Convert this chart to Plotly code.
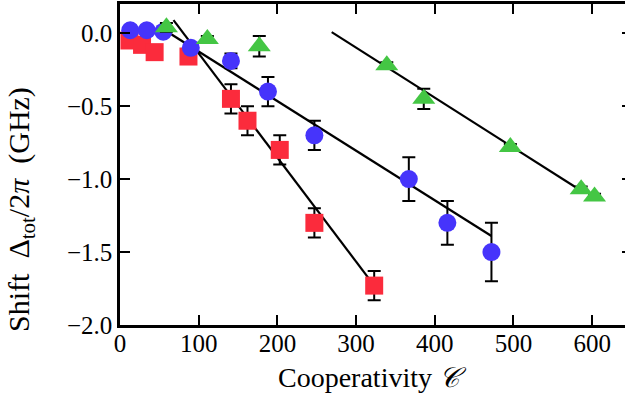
import plotly.graph_objects as go

# Measured shifts versus cooperativity for three series
red_x = [12, 28, 44, 87, 141, 162, 203, 247, 323]
red_y = [-0.05, -0.08, -0.13, -0.16, -0.45, -0.60, -0.80, -1.30, -1.73]
red_err = [0.02, 0.03, 0.03, 0.045, 0.10, 0.10, 0.10, 0.10, 0.10]

blue_x = [13, 34, 55, 90, 141, 188, 247, 367, 416, 472]
blue_y = [0.02, 0.02, 0.01, -0.10, -0.19, -0.40, -0.70, -1.00, -1.30, -1.50]
blue_err = [0.02, 0.02, 0.02, 0.02, 0.05, 0.10, 0.10, 0.15, 0.15, 0.20]

green_x = [59, 111, 177, 339, 386, 496, 586, 603]
green_y = [0.04, -0.04, -0.09, -0.22, -0.45, -0.78, -1.07, -1.12]
green_err = [0.03, 0.02, 0.07, 0.02, 0.07, 0.02, 0.02, 0.02]

# Linear fits (end points)
red_fit_x = [68, 323]
red_fit_y = [0.09, -1.73]
blue_fit_x = [60, 472]
blue_fit_y = [0.01, -1.39]
green_fit_x = [269, 587]
green_fit_y = [0.007, -1.083]

x_ticks = [0, 100, 200, 300, 400, 500, 600]
y_ticks = [-2.0, -1.5, -1.0, -0.5, 0.0]
y_tick_text = ["\u22122.0", "\u22121.5", "\u22121.0", "\u22120.5", "0.0"]

RED = "#fb2b3c"
BLUE = "#4634fb"
GREEN = "#44c644"
FONT = "Liberation Serif"

fig = go.Figure()

for fx, fy in [(red_fit_x, red_fit_y), (blue_fit_x, blue_fit_y), (green_fit_x, green_fit_y)]:
    fig.add_trace(go.Scatter(x=fx, y=fy, mode="lines",
                             line=dict(color="black", width=2.2),
                             showlegend=False, hoverinfo="skip"))

def points(x, y, err, symbol, color, size):
    return go.Scatter(
        x=x, y=y, mode="markers",
        marker=dict(symbol=symbol, color=color, size=size, line=dict(width=0)),
        error_y=dict(type="data", array=err, visible=True, color="black",
                     thickness=2, width=6.5),
        showlegend=False,
    )

fig.add_trace(points(red_x, red_y, red_err, "square", RED, 18))
fig.add_trace(points(blue_x, blue_y, blue_err, "circle", BLUE, 18))
fig.add_trace(points(green_x, green_y, green_err, "triangle-up", GREEN, 20))

# invisible trace to carry the right-hand tick axis
fig.add_trace(go.Scatter(x=[0], y=[0], yaxis="y2", mode="markers",
                         marker=dict(opacity=0), showlegend=False, hoverinfo="skip"))

fig.update_layout(
    width=625, height=396,
    margin=dict(l=120, r=0, t=4, b=71),
    paper_bgcolor="white", plot_bgcolor="white",
    font=dict(family=FONT, size=25, color="black"),
    xaxis=dict(range=[0, 641.7], tickvals=x_ticks, ticks="inside", ticklen=10,
               tickwidth=1.5, tickcolor="black", showline=True, linewidth=2.5,
               linecolor="black", mirror="ticks", showgrid=False, zeroline=False,
               ticklabelstandoff=-6),
    yaxis=dict(range=[-2.0, 0.2], tickvals=y_ticks, ticktext=y_tick_text,
               ticks="inside", ticklen=10, tickwidth=1.5, tickcolor="black",
               showline=True, linewidth=2.5, linecolor="black", showgrid=False,
               zeroline=False, ticklabelstandoff=0),
    yaxis2=dict(range=[-2.0, 0.2], overlaying="y", side="right", tickvals=y_ticks,
                ticks="inside", ticklen=3, tickwidth=1.5, tickcolor="black",
                showticklabels=False, showline=False, showgrid=False, zeroline=False),
    annotations=[
        dict(text="Shift  \u0394<sub>tot</sub>/2<i>\u03c0</i>  (GHz)", xref="paper",
             yref="paper", x=-0.195, y=0.36, xanchor="center", yanchor="middle",
             textangle=-90, showarrow=False, font=dict(family=FONT, size=30)),
        dict(text="Cooperativity <i>\U0001D49E</i>", xref="paper", yref="paper",
             x=0.5, y=-0.165, xanchor="center", yanchor="middle",
             showarrow=False, font=dict(family=FONT, size=28)),
    ],
)

fig.write_html("out.html")
